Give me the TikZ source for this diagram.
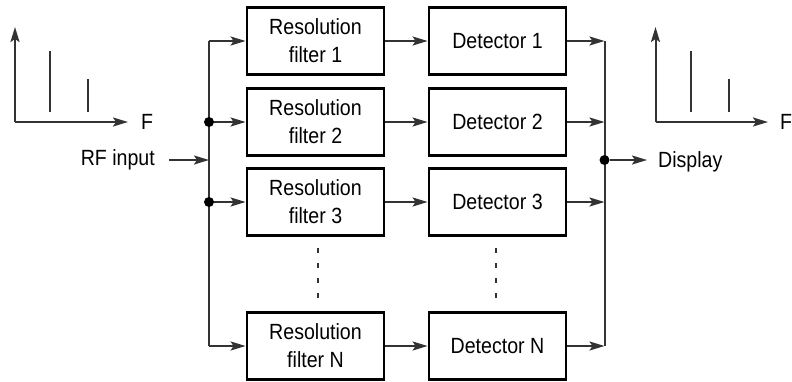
\documentclass[tikz,border=0pt]{standalone}
\usepackage{fontspec}
\setmainfont{Liberation Sans}[FakeStretch=0.89]
\usetikzlibrary{arrows.meta}
\definecolor{ln}{HTML}{333333}
\begin{document}
\begin{tikzpicture}[x=1pt,y=-1pt,
  box/.style={draw=black,line width=2.8pt,minimum width=137pt,minimum height=67pt,inner sep=0pt,align=center,font=\fontsize{22}{28}\selectfont},
  lbl/.style={inner sep=0pt,font=\fontsize{22}{28}\selectfont},
  con/.style={draw=ln,line width=2pt},
  arr/.style={con,-{Stealth[length=15pt,width=9pt,inset=3pt]}},
  dot/.style={circle,fill=black,inner sep=0pt,minimum size=10pt},
  vdots/.style={draw=ln,line width=1.6pt,dash pattern=on 5pt off 10pt}]
\useasboundingbox (0,0) rectangle (792,381);
% boxes
\node[box] (f1) at (315.5,41) {Resolution\\filter 1};
\node[box] (f2) at (315.5,122) {Resolution\\filter 2};
\node[box] (f3) at (315.5,202) {Resolution\\filter 3};
\node[box] (fn) at (315.5,346) {Resolution\\filter N};
\node[box] (d1) at (497.5,41) {Detector 1};
\node[box] (d2) at (497.5,122) {Detector 2};
\node[box] (d3) at (497.5,202) {Detector 3};
\node[box] (dn) at (497.5,346) {Detector N};
% bus coordinates
\coordinate (lt) at (209,41);
\coordinate (lb) at (209,346);
\coordinate (l2) at (209,122);
\coordinate (l3) at (209,202);
\coordinate (lin) at (209,160);
\coordinate (rt) at (604.5,41);
\coordinate (rb) at (604.5,346);
\coordinate (r2) at (604.5,122);
\coordinate (r3) at (604.5,202);
\coordinate (rout) at (604.5,160);
\draw[con] (lt) -- (lb);
\draw[con] (rt) -- (rb);
\draw[arr] (lt) -- (f1.west);
\draw[arr] (l2) -- (f2.west);
\draw[arr] (l3) -- (f3.west);
\draw[arr] (lb) -- (fn.west);
\foreach \i in {1,2,3,n}{\draw[arr] (f\i.east) -- (d\i.west);}
\draw[arr] (d1.east) -- (rt);
\draw[arr] (d2.east) -- (r2);
\draw[arr] (d3.east) -- (r3);
\draw[arr] (dn.east) -- (rb);
\node[dot] (dl2) at (l2) {};
\node[dot] (dl3) at (l3) {};
\node[dot] (dr) at (rout) {};
% input / output
\node[lbl,anchor=east] (rf) at (155,160) {RF input};
\coordinate (rfs) at (169,160);
\draw[arr] (rfs) -- (lin);
\coordinate (dispe) at (647,160);
\draw[arr] (dr) -- (dispe);
\node[lbl,anchor=west] (disp) at (658,162) {Display};
% dotted continuation
\coordinate (v1a) at (318,248); \coordinate (v1b) at (318,300);
\coordinate (v2a) at (496,248); \coordinate (v2b) at (496,300);
\draw[vdots] (v1a) -- (v1b);
\draw[vdots] (v2a) -- (v2b);
% left spectrum
\coordinate (so) at (15,122);
\coordinate (sy) at (15,27);
\coordinate (sx) at (128,122);
\draw[arr] (so) -- (sy);
\draw[arr] (so) -- (sx);
\draw[con] (50,51) -- (50,112);
\draw[con] (88,79) -- (88,112);
\node[lbl] (fl) at (147,122) {F};
% right spectrum
\coordinate (to) at (655.5,122);
\coordinate (ty) at (655.5,27);
\coordinate (tx) at (768,122);
\draw[arr] (to) -- (ty);
\draw[arr] (to) -- (tx);
\draw[con] (691,51) -- (691,112);
\draw[con] (729,79) -- (729,112);
\node[lbl] (fr) at (786,122) {F};
\end{tikzpicture}
\end{document}
